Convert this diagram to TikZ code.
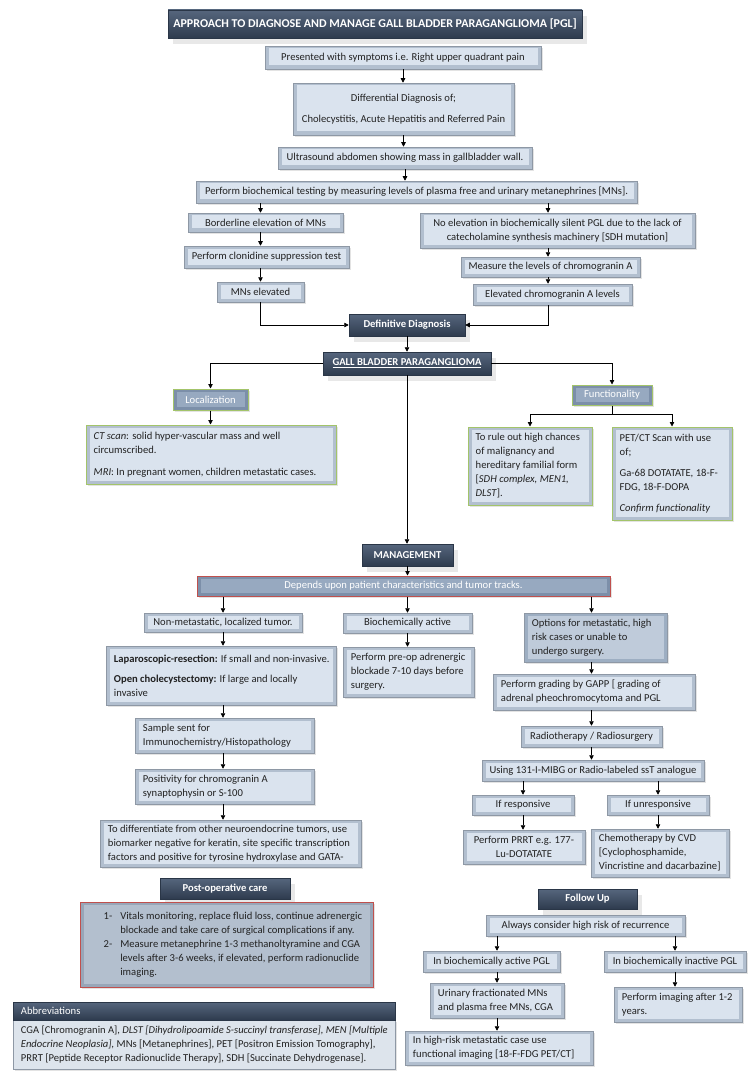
\documentclass[tikz,border=0pt]{standalone}
\usepackage{fontspec}
\setmainfont{Carlito}
\usetikzlibrary{arrows.meta,shadows}
\definecolor{txtc}{HTML}{222222}
\definecolor{lface}{HTML}{DAE3EE}
\definecolor{ledge}{HTML}{B2BFCF}
\definecolor{lbord}{HTML}{8E98A5}
\definecolor{oface}{HTML}{BFCBDA}
\definecolor{oedge}{HTML}{9DAEC2}
\definecolor{dtop}{HTML}{56667D}
\definecolor{dbot}{HTML}{2E3B4E}
\definecolor{dedge}{HTML}{2A3647}
\definecolor{mface}{HTML}{97A9C0}
\definecolor{medge}{HTML}{7C8FA9}
\definecolor{grn}{HTML}{A3C46A}
\definecolor{rdc}{HTML}{C0504D}
\definecolor{pface}{HTML}{B3BFCE}
\definecolor{pedge}{HTML}{98A6B8}
\definecolor{aface}{HTML}{DDE4EC}
\newcommand\myfs{\fontsize{10.6}{14}\selectfont}
\tikzset{
 bev/.style={path picture={\fill[#1] ([shift={(3.5pt,3.5pt)}]path picture bounding box.south west) rectangle ([shift={(-3.5pt,-2.5pt)}]path picture bounding box.north east);}},
 shd/.style={drop shadow={opacity=0.22, shadow xshift=1.5pt, shadow yshift=-2pt}},
 dshd/.style={drop shadow={opacity=0.18, shadow xshift=5pt, shadow yshift=-6pt}},
 base/.style={rectangle, inner sep=1pt, font=\myfs, text=txtc},
 lt/.style={base, draw=lbord, line width=0.5pt, fill=ledge, bev=lface, shd},
 op/.style={base, draw=lbord, line width=0.5pt, fill=oedge, bev=oface, shd},
 dk/.style={base, draw=dedge, line width=0.5pt, top color=dtop, bottom color=dbot, text=white, font=\myfs\bfseries, dshd},
 gl/.style={base, draw=grn, line width=1pt, fill=medge, bev=mface, text=white, shd},
 gbx/.style={base, draw=grn, line width=1pt, fill=ledge, bev=lface, shd},
 rdb/.style={base, draw=rdc, line width=1pt, fill=medge, bev=mface, text=white, shd},
 pl/.style={base, draw=rdc, line width=1pt, fill=pedge, bev=pface, shd},
 abh/.style={base, draw=dedge, line width=0.5pt, top color=dtop, bottom color=dbot},
 abb/.style={base, fill=aface, draw=lbord, line width=0.5pt, shd},
 tx/.style={inner sep=0pt, font=\myfs, text=txtc, align=left},
 arr/.style={draw=black, line width=0.8pt, -{Triangle[length=4.5pt,width=4.5pt]}},
 ln/.style={draw=black, line width=0.8pt}
}
% centred box: style, name, x1, y1, x2, y2, text
\newcommand\bc[7]{%
 \pgfmathsetmacro\bxw{#5-#3}\pgfmathsetmacro\bxh{#6-#4}%
 \pgfmathsetmacro\bxcx{(#3+#5)/2}\pgfmathsetmacro\bxcy{(#4+#6)/2}%
 \node[#1, minimum width=\bxw pt, minimum height=\bxh pt, align=center] (#2) at (\bxcx,\bxcy) {#7};}
% left-aligned box
\newcommand\bl[7]{%
 \pgfmathsetmacro\bxw{#5-#3}\pgfmathsetmacro\bxh{#6-#4}%
 \pgfmathsetmacro\bxcx{(#3+#5)/2}\pgfmathsetmacro\bxcy{(#4+#6)/2}%
 \node[#1, minimum width=\bxw pt, minimum height=\bxh pt] (#2) at (\bxcx,\bxcy) {};
 \node[tx, anchor=west] (#2-t) at ([xshift=8pt]#2.west) {#7};}
\begin{document}
\begin{tikzpicture}[x=1pt,y=-1pt]
\useasboundingbox (0,0) rectangle (750,1083);
\fill[white] (0,0) rectangle (750,1083);
% ---- top section
\bc{dk,font=\bfseries\fontsize{12}{14}\selectfont}{title}{168}{10}{582}{38}{APPROACH TO DIAGNOSE AND MANAGE GALL BLADDER PARAGANGLIOMA [PGL]}
\bc{lt}{pres}{265}{46}{541}{69}{Presented with symptoms i.e. Right upper quadrant pain}
\bc{lt}{diff}{293}{83}{514}{135}{Differential Diagnosis of;\\[7pt]Cholecystitis, Acute Hepatitis and Referred Pain}
\bc{lt}{us}{278}{147}{532}{169}{Ultrasound abdomen showing mass in gallbladder wall.}
\bc{lt}{bio}{196}{181}{637}{203}{Perform biochemical testing by measuring levels of plasma free and urinary metanephrines [MNs].}
\bc{lt}{bord}{188}{213}{343}{232}{Borderline elevation of MNs}
\bc{lt}{noel}{420}{213}{695}{248}{No elevation in biochemically silent PGL due to the lack of\\catecholamine synthesis machinery [SDH mutation]}
\bc{lt}{clon}{184}{246}{349}{268}{Perform clonidine suppression test}
\bc{lt}{meas}{461}{257}{640}{277}{Measure the levels of chromogranin A}
\bc{lt}{mnse}{217}{282}{304}{302}{MNs elevated}
\bc{lt}{elev}{473}{284}{632}{305}{Elevated chromogranin A levels}
\bc{dk}{dd}{349}{314}{465}{336}{Definitive Diagnosis}
\bc{dk}{gb}{323}{352}{491}{375}{\underline{GALL BLADDER PARAGANGLIOMA}}
\bc{gl}{loc}{173}{389}{248}{410}{Localization}
\bl{gbx}{ct}{86}{425}{336}{484}{\textit{CT scan}: solid hyper-vascular mass and well\\circumscribed.\\[8pt]\textit{MRI}: In pregnant women, children metastatic cases.}
\bc{gl}{func}{572}{385}{652}{405}{Functionality}
\bl{gbx}{rule}{468}{427}{592}{505}{To rule out high chances\\of malignancy and\\hereditary familial form\\{[}\textit{SDH complex, MEN1,}\\\textit{DLST}].}
\bl{gbx}{pet}{612}{427}{732}{520}{PET/CT Scan with use\\of;\\[7pt]Ga-68 DOTATATE, 18-F-\\FDG, 18-F-DOPA\\[7pt]\textit{Confirm functionality}}
% ---- management
\bc{dk}{mg}{362}{544}{453}{566}{MANAGEMENT}
\bc{rdb}{dep}{197}{576}{610}{596}{Depends upon patient characteristics and tumor tracks.}
\bc{lt}{nm}{144}{613}{302}{632}{Non-metastatic, localized tumor.}
\bc{lt}{ba}{343}{613}{472}{633}{Biochemically active}
\bl{op}{opt}{524}{613}{667}{662}{Options for metastatic, high\\risk cases or unable to\\undergo surgery.}
\bl{lt}{lap}{106}{646}{336}{705}{\textbf{Laparoscopic-resection:} If small and non-invasive.\\[6pt]\textbf{Open cholecystectomy:} If large and locally\\invasive}
\bl{lt}{pre}{343}{647}{474}{697}{Perform pre-op adrenergic\\blockade 7-10 days before\\surgery.}
\bl{lt}{gapp}{493}{674}{695}{710}{Perform grading by GAPP [ grading of\\adrenal pheochromocytoma and PGL}
\bc{lt}{rad}{521}{726}{662}{747}{Radiotherapy / Radiosurgery}
\bc{lt}{use}{482}{760}{704}{781}{Using 131-I-MIBG or Radio-labeled ssT analogue}
\bc{lt}{resp}{472}{795}{574}{815}{If responsive}
\bc{lt}{unr}{607}{795}{709}{815}{If unresponsive}
\bc{lt}{prrt}{463}{830}{585}{864}{Perform PRRT e.g. 177-\\Lu-DOTATATE}
\bl{lt}{chemo}{591}{829}{729}{877}{Chemotherapy by CVD\\{[}Cyclophosphamide,\\Vincristine and dacarbazine]}
\bl{lt}{samp}{135}{718}{314}{753}{Sample sent for\\Immunochemistry/Histopathology}
\bl{lt}{posi}{135}{769}{314}{804}{Positivity for chromogranin A\\synaptophysin or S-100}
\bl{lt}{difr}{100}{820}{361}{867}{To differentiate from other neuroendocrine tumors, use\\biomarker negative for keratin, site specific transcription\\factors and positive for tyrosine hydroxylase and GATA-}
\bc{dk}{post}{160}{878}{290}{899}{Post-operative care}
\bl{pl}{plist}{80}{902}{373}{987}{\begin{tabular}{@{\hspace{16pt}}l@{\hspace{8pt}}l@{}}
1- & Vitals monitoring, replace fluid loss, continue adrenergic\\
 & blockade and take care of surgical complications if any.\\
2- & Measure metanephrine 1-3 methanoltyramine and CGA\\
 & levels after 3-6 weeks, if elevated, perform radionuclide\\
 & imaging.\end{tabular}}
% ---- follow up
\bc{dk}{fu}{538}{889}{637}{909}{Follow Up}
\bc{lt}{alw}{486}{915}{685}{936}{Always consider high risk of recurrence}
\bc{lt}{bact}{423}{951}{560}{972}{In biochemically active PGL}
\bc{lt}{binact}{604}{951}{746}{972}{In biochemically inactive PGL}
\bl{lt}{urin}{430}{983}{564}{1018}{Urinary fractionated MNs\\and plasma free MNs, CGA}
\bl{lt}{pimg}{614}{987}{742}{1022}{Perform imaging after 1-2\\years.}
\bl{lt}{high}{405}{1031}{593}{1065}{In high-risk metastatic case use\\functional imaging {[}18-F-FDG PET/CT]}
% ---- abbreviations
\bl{abb}{abb}{13}{1020}{395}{1069}{\fontsize{10.5}{13.6}\selectfont CGA {[}Chromogranin A], \textit{DLST [Dihydrolipoamide S-succinyl transferase], MEN [Multiple}\\\textit{Endocrine Neoplasia],} MNs [Metanephrines], PET [Positron Emission Tomography],\\PRRT [Peptide Receptor Radionuclide Therapy], SDH [Succinate Dehydrogenase].}
\bl{abh}{abh}{13}{1002}{395}{1020}{\color{white}Abbreviations}
% ---- connectors
\coordinate (rx) at (548,0);
\draw[arr] (pres.south) -- (pres.south |- diff.north);
\draw[arr] (diff.south) -- (diff.south |- us.north);
\draw[arr] (us.south) -- (us.south |- bio.north);
\draw[arr] (bio.south -| mnse.south) -- (bord.north -| mnse.south);
\draw[arr] (bord.south -| mnse.south) -- (clon.north -| mnse.south);
\draw[arr] (clon.south -| mnse.south) -- (mnse.north);
\draw[arr] (mnse.south) |- (dd.west);
\draw[arr] (bio.south -| rx) -- (noel.north -| rx);
\draw[arr] (noel.south -| rx) -- (meas.north -| rx);
\draw[arr] (meas.south -| rx) -- (elev.north -| rx);
\draw[arr] (elev.south -| rx) |- (dd.east);
\draw[arr] (dd.south) -- (dd.south |- gb.north);
\draw[arr] (gb.west) -| (loc.north);
\draw[arr] (loc.south) -- (loc.south |- ct.north);
\draw[arr] (gb.east) -| (func.north);
\path (func.south) ++(0,9) coordinate (fj);
\draw[ln] (func.south) -- (fj);
\draw[arr] (fj) -| (rule.north);
\draw[arr] (fj) -| (pet.north);
\draw[arr] (gb.south) -- (gb.south |- mg.north);
\draw[arr] (mg.south) -- (mg.south |- dep.north);
\draw[arr] (dep.south -| nm.north) -- (nm.north);
\draw[arr] (dep.south -| ba.north) -- (ba.north);
\draw[arr] (dep.south -| rad.north) -- (opt.north -| rad.north);
\draw[arr] (nm.south) -- (nm.south |- lap.north);
\draw[arr] (lap.south -| nm.south) -- (samp.north -| nm.south);
\draw[arr] (samp.south -| nm.south) -- (posi.north -| nm.south);
\draw[arr] (posi.south -| nm.south) -- (difr.north -| nm.south);
\draw[arr] (ba.south) -- (ba.south |- pre.north);
\draw[arr] (opt.south -| rad.north) -- (gapp.north -| rad.north);
\draw[arr] (gapp.south -| rad.north) -- (rad.north);
\draw[arr] (rad.south) -- (rad.south |- use.north);
\draw[arr] (use.south -| resp.north) -- (resp.north);
\draw[arr] (use.south -| unr.north) -- (unr.north);
\draw[arr] (resp.south) -- (resp.south |- prrt.north);
\draw[arr] (unr.south) -- (unr.south |- chemo.north);
\draw[arr] (alw.south -| urin.north) -- (bact.north -| urin.north);
\draw[arr] (alw.south -| binact.north) -- (binact.north);
\draw[arr] (bact.south -| urin.north) -- (urin.north);
\draw[arr] (urin.south) -- (urin.south |- high.north);
\draw[arr] (binact.south) -- (binact.south |- pimg.north);
\end{tikzpicture}
\end{document}
